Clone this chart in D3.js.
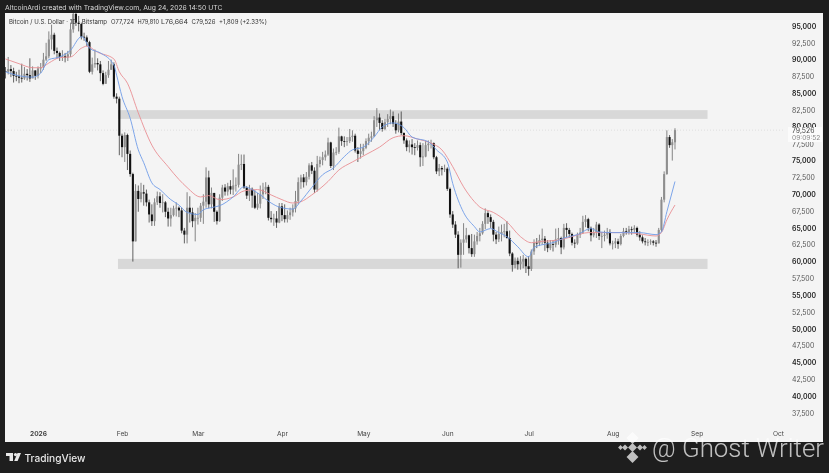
<!DOCTYPE html>
<html>
<head>
<meta charset="utf-8">
<title>BTC/USD</title>
<script src="https://cdn.jsdelivr.net/npm/d3@7"></script>
<style>
  html, body { margin: 0; padding: 0; background: #1e1e1e; overflow: hidden; }
  svg { display: block; font-family: Inter, "Liberation Sans", sans-serif; filter: blur(0.3px); }
</style>
</head>
<body>
<svg id="chart" width="829" height="473"></svg>
<script>
"use strict";

// daily closes in thousands of USD, first candle is Dec 20 2025
const closes = [
  88.2,88.6,88.3,87.6,87.5,87.3,87.2,87.9,87.7,87.2,88.4,87.6,
  88.7,88.9,90.0,90.5,93.0,93.7,91.3,91.0,90.4,90.5,90.3,90.8,94.5,96.8,95.5,95.3,93.4,93.3,92.6,88.2,89.3,89.5,89.3,88.0,86.4,87.7,88.5,89.3,84.5,84.2,78.7,
  77.0,78.8,76.0,73.0,63.0,70.5,69.3,70.3,70.1,68.8,67.0,66.0,68.8,69.7,68.7,68.8,67.4,66.4,66.9,67.9,68.0,67.6,64.6,64.0,68.0,67.3,66.0,66.5,
  66.5,68.3,68.9,72.5,68.5,70.2,67.4,66.0,69.5,71.0,70.4,71.2,70.7,71.3,71.4,74.4,74.5,71.0,69.8,70.8,69.8,68.0,68.6,70.0,70.7,71.1,66.5,66.3,66.4,65.8,68.2,
  66.9,66.3,66.9,67.3,67.9,69.0,71.8,72.5,71.8,72.6,74.3,73.5,70.7,74.5,75.1,75.5,75.9,77.7,74.2,76.2,76.3,78.6,77.9,77.8,77.9,78.5,78.7,76.5,76.0,76.4,
  76.9,77.9,78.4,78.6,81.0,81.4,80.6,79.7,80.7,81.2,81.6,80.5,79.5,80.8,79.1,78.0,77.0,77.4,77.0,76.9,77.3,75.5,75.6,77.3,77.5,77.6,75.5,73.4,73.9,73.7,73.8,
  70.8,67.0,65.5,64.0,61.0,62.8,63.3,63.9,62.0,61.1,63.0,63.8,64.2,65.6,67.2,66.6,65.9,64.0,63.3,64.1,64.4,64.5,63.5,61.2,59.5,60.1,59.6,60.0,60.4,59.3,
  58.9,61.5,62.8,62.7,63.2,63.4,62.8,62.0,62.6,62.5,63.3,63.5,62.1,65.0,64.7,64.1,62.8,62.7,64.0,64.3,65.9,66.3,65.0,63.9,64.3,65.5,63.8,63.8,64.0,64.4,62.7,
  62.7,63.0,62.6,63.8,64.5,64.4,64.8,64.7,65.0,64.0,63.6,63.0,62.9,62.9,63.0,62.8,62.7,64.7,69.2,73.0,78.5,77.3,77.72,79.526
];
const highs = [
  88.9,90.4,89.2,88.8,88.2,88.5,89.4,88.9,88.6,90.2,89.0,88.4,
  89.0,89.5,91.0,92.5,94.2,95.2,94.0,91.8,91.2,91.4,91.0,91.3,95.5,97.8,97.0,96.5,95.5,94.0,93.6,92.8,90.3,91.5,90.2,89.8,88.4,88.2,89.8,90.0,89.6,85.0,84.5,
  79.0,79.2,79.0,76.5,73.2,71.5,71.3,71.7,71.4,70.7,69.2,68.5,69.4,70.4,70.3,70.0,69.0,68.0,68.0,68.3,68.8,68.2,68.0,65.0,70.3,69.7,68.0,67.2,
  68.0,68.7,70.0,74.0,73.5,71.0,70.2,67.6,70.0,71.4,71.5,71.7,72.1,73.7,72.5,76.0,75.9,75.9,71.2,71.4,71.0,70.6,70.2,71.3,71.7,71.8,71.4,67.5,67.1,67.5,68.7,
  68.7,68.5,67.6,68.0,68.5,70.5,72.5,72.9,73.0,73.3,74.6,74.8,74.0,75.7,75.6,76.3,76.5,78.4,77.8,76.8,77.0,79.9,78.7,78.6,78.5,79.7,79.5,79.0,77.0,77.5,
  77.5,78.3,79.0,79.3,81.6,82.8,82.0,81.0,81.2,81.9,82.6,82.3,81.0,82.0,82.3,79.2,78.3,78.0,78.2,77.6,78.0,77.7,77.6,77.9,78.0,78.1,77.7,75.7,74.5,74.2,74.4,
  74.0,71.0,67.5,66.0,64.5,63.3,65.7,65.0,64.0,64.1,64.0,64.4,65.0,66.0,67.9,67.5,67.0,66.2,64.4,65.2,65.5,65.6,66.0,64.6,61.4,60.6,60.6,60.8,61.0,60.6,
  60.8,61.8,63.3,63.5,64.0,64.9,63.8,63.2,63.2,63.2,64.9,65.0,63.7,65.6,65.7,65.0,64.3,63.3,64.3,65.0,66.8,66.9,66.5,65.2,65.0,65.9,65.7,64.4,64.6,65.0,64.8,
  63.1,63.5,63.4,64.1,65.0,65.0,65.3,65.2,65.4,65.2,64.5,63.9,63.5,63.3,63.3,63.2,63.2,65.0,69.6,73.4,79.5,78.8,78.2,79.81
];
const lows = [
  87.2,87.8,87.4,86.6,86.8,86.5,86.6,87.0,86.9,86.7,87.3,87.0,
  87.2,88.0,88.5,89.8,90.2,91.5,90.8,90.2,89.8,89.8,89.6,89.8,90.4,94.0,95.0,94.2,93.0,92.8,92.0,88.0,87.8,88.8,88.4,86.8,86.2,86.5,87.3,88.5,84.2,83.5,75.8,
  75.5,74.8,73.6,72.6,60.0,63.0,67.4,68.8,68.3,68.2,65.8,65.3,65.3,68.4,68.0,67.3,66.6,65.2,65.2,66.7,66.7,66.6,64.2,62.7,62.7,65.8,65.1,63.0,
  65.5,65.9,65.6,68.0,67.9,67.9,65.9,65.5,65.9,69.0,69.8,69.8,70.0,69.9,70.4,71.0,73.6,70.8,69.3,69.0,68.0,67.8,67.7,67.9,69.3,70.0,66.1,65.8,65.3,65.0,65.7,
  66.0,65.8,65.8,66.2,66.7,67.3,68.5,70.8,71.0,71.3,72.2,73.0,70.2,70.4,74.0,74.3,75.0,75.7,73.9,73.6,75.8,76.0,77.2,77.0,77.2,77.6,77.8,76.2,74.8,75.3,
  75.8,76.7,77.3,77.8,78.5,80.0,79.5,79.3,79.5,80.0,80.4,80.0,79.0,79.2,78.8,77.5,76.4,76.2,75.9,75.8,76.5,74.1,74.2,75.5,76.4,76.8,75.2,73.0,72.7,72.8,73.3,
  70.5,66.5,65.0,63.5,59.0,59.1,61.0,62.8,61.2,60.7,60.7,62.5,63.0,64.0,64.8,65.6,65.0,63.0,62.6,62.9,63.0,63.6,63.4,60.8,58.5,59.0,58.8,58.8,59.0,58.3,
  57.9,58.6,61.0,62.0,62.3,62.5,61.6,61.4,61.7,61.5,62.1,62.5,61.1,61.8,63.6,63.5,62.4,62.0,62.5,63.5,64.1,65.1,64.5,63.0,63.6,63.5,63.2,62.0,63.0,63.4,62.4,
  61.8,62.0,61.9,62.4,63.6,64.0,64.0,64.0,64.3,63.7,63.1,62.7,62.4,62.3,62.5,62.4,62.2,62.7,64.4,68.8,72.9,76.9,75.0,76.664
];
const firstOpen = 88.3;

// moving averages: day number from Jan 1 2026, value in thousands
const blueDays = [-12,-8,-2,1,4,8,12,16,17,19,23,28,29,31,34,37,39,42,45,49,52,55,59,61,65,67,72,76,81,86,89,94,97,101,105,109,113,116,120,124,127,131,135,138,144,147,151,153,157,161,163,167,170,173,177,181,183,186,190,194,199,204,207,212,217,222,228,230,232,235];
const blueValues = [88.2,87.7,87.4,88.0,90.0,90.4,91.4,93.4,93.2,91.7,91.0,89.2,87.7,84.5,81.3,76.6,74.7,71.7,70.7,69.2,68.4,67.3,67.0,67.7,68.1,68.3,69.6,71.1,70.2,68.7,68.1,67.8,69.0,71.0,72.9,73.9,75.6,76.6,77.0,78.5,80.0,80.6,79.9,78.5,77.8,76.6,74.8,71.6,67.3,65.2,64.4,64.9,64.3,63.7,62.2,60.7,62.1,62.5,62.8,63.5,64.0,64.9,64.4,64.3,64.3,64.3,64.0,64.4,67.4,71.9];
const redDays = [-12,-7,-2,1,4,8,12,16,18,22,28,30,33,37,42,48,52,55,60,63,67,72,76,81,86,90,94,97,101,107,111,116,121,126,131,135,140,145,149,153,157,161,163,168,173,178,182,186,192,197,203,208,217,222,228,230,232,235];
const redValues = [90.1,89.4,88.8,88.8,89.5,90.3,90.4,91.7,92.0,91.1,90.1,88.2,86.5,82.1,77.3,74.1,72.2,71.0,69.6,69.8,69.2,69.6,70.5,70.7,69.9,69.2,68.7,68.9,69.9,71.9,73.6,74.8,75.9,77.0,78.4,78.7,78.2,77.6,76.6,74.1,71.1,68.9,68.1,67.3,65.9,63.7,62.8,63.0,63.2,63.7,64.3,64.3,64.3,64.1,63.8,64.3,66.2,68.4];

const priceTicks = d3.range(95000, 37499, -2500);
const monthTicks = ["2026-01-01","2026-02-01","2026-03-01","2026-04-01","2026-05-01","2026-06-01","2026-07-01","2026-08-01","2026-09-01","2026-10-01"];
const monthLabels = ["2026","Feb","Mar","Apr","May","Jun","Jul","Aug","Sep","Oct"];

// grey zones: price bounds and day bounds
const zones = [
  { top: 82.5, bottom: 81.2, from: 29.5, to: 247 },
  { top: 60.4, bottom: 58.9, from: 29.5, to: 247 }
];

const headerText = "AltcoinArdi created with TradingView.com, Aug 24, 2026 14:50 UTC";
const legendTexts = ["Bitcoin / U.S. Dollar · 1D · Bitstamp", "O77,724", "H79,810", "L76,664", "C79,526", "+1,809 (+2.33%)"];

const day0 = Date.UTC(2026, 0, 1);
const dayMs = 86400000;
const dateOf = d => new Date(day0 + d * dayMs);

const x = d3.scaleUtc()
    .domain([new Date("2026-01-01"), new Date("2026-10-01")])
    .range([38, 778]);
const y = d3.scaleLinear()
    .domain([37500, 95000])
    .range([413, 26]);
const yK = v => y(v * 1000);

const candles = closes.map((c, i) => ({
    date: dateOf(i - 12),
    open: i === 0 ? firstOpen : closes[i - 1],
    high: highs[i],
    low: lows[i],
    close: c
}));

const svg = d3.select("#chart");

// frame
svg.append("rect").attr("width", 829).attr("height", 473).attr("fill", "#1e1e1e");
svg.append("rect").attr("x", 5).attr("y", 13).attr("width", 818).attr("height", 429).attr("fill", "#f4f4f4");

const defs = svg.append("defs");
defs.append("clipPath").attr("id", "plot")
    .append("rect").attr("x", 5).attr("y", 13).attr("width", 780).attr("height", 429);

const plot = svg.append("g").attr("clip-path", "url(#plot)");

// zones
plot.selectAll("rect.zone")
    .data(zones)
    .enter()
    .append("rect")
    .attr("class", "zone")
    .attr("x", d => x(dateOf(d.from)))
    .attr("width", d => x(dateOf(d.to)) - x(dateOf(d.from)))
    .attr("y", d => yK(d.top))
    .attr("height", d => yK(d.bottom) - yK(d.top))
    .attr("fill", "#d8d8d8");

// last price dotted line
plot.append("line")
    .attr("x1", 5).attr("x2", 785)
    .attr("y1", yK(79.526)).attr("y2", yK(79.526))
    .attr("stroke", "#cfcfcf")
    .attr("stroke-width", 0.6)
    .attr("stroke-dasharray", "1 2");

// candles
const candle = plot.selectAll("g.candle")
    .data(candles)
    .enter()
    .append("g")
    .attr("class", "candle");

candle.append("line")
    .attr("x1", d => x(d.date)).attr("x2", d => x(d.date))
    .attr("y1", d => yK(d.high)).attr("y2", d => yK(d.low))
    .attr("stroke", d => d.close >= d.open ? "#555" : "#222")
    .attr("stroke-width", 0.7);

candle.append("rect")
    .attr("x", d => x(d.date) - 1.05)
    .attr("width", 2.1)
    .attr("y", d => yK(Math.max(d.open, d.close)))
    .attr("height", d => Math.max(0.8, Math.abs(yK(d.open) - yK(d.close))))
    .attr("fill", d => d.close >= d.open ? "#8e8e8e" : "#111");

// moving averages
const maLine = d3.line()
    .curve(d3.curveMonotoneX)
    .x(d => x(dateOf(d[0])))
    .y(d => yK(d[1]));

plot.append("path")
    .attr("d", maLine(redDays.map((d, i) => [d, redValues[i]])))
    .attr("fill", "none")
    .attr("stroke", "#e98f93")
    .attr("stroke-width", 0.9);
plot.append("path")
    .attr("d", maLine(blueDays.map((d, i) => [d, blueValues[i]])))
    .attr("fill", "none")
    .attr("stroke", "#6f9ce8")
    .attr("stroke-width", 0.9);

// price axis
const yAxis = d3.axisRight(y)
    .tickValues(priceTicks.filter(d => d !== 80000))
    .tickFormat(d3.format(","))
    .tickSize(0)
    .tickPadding(0);
const yAxisG = svg.append("g").attr("transform", "translate(792,0)").call(yAxis);
yAxisG.select(".domain").remove();
yAxisG.selectAll("text")
    .attr("fill", d => d % 5000 === 0 ? "#222" : "#555")
    .attr("font-weight", d => d % 5000 === 0 ? 600 : 400)
    .attr("font-size", 6.9)
    .attr("font-family", "Inter, 'Liberation Sans', sans-serif");

// time axis
const xAxis = d3.axisBottom(x)
    .tickValues(monthTicks.map(d => new Date(d)))
    .tickFormat((d, i) => monthLabels[i])
    .tickSize(0)
    .tickPadding(0);
const xAxisG = svg.append("g").attr("transform", "translate(0,431)").call(xAxis);
xAxisG.select(".domain").remove();
xAxisG.selectAll("text")
    .attr("fill", "#444")
    .attr("font-size", 6.6)
    .attr("font-weight", (d, i) => i === 0 ? 700 : 400)
    .attr("font-family", "Inter, 'Liberation Sans', sans-serif");

// last price tag, the 80,000 tick only peeks out above it
svg.append("text").attr("x", 792).attr("y", 128.5).attr("font-size", 6.9).attr("font-weight", 600).attr("fill", "#222").text("80,000");
svg.append("rect").attr("x", 788).attr("y", 127).attr("width", 34).attr("height", 15).attr("fill", "#fbfbfb");
svg.append("text").attr("x", 792).attr("y", 132.5).attr("font-size", 6.9).attr("fill", "#444").text("79,526");
svg.append("text").attr("x", 792).attr("y", 140).attr("font-size", 6.6).attr("fill", "#888").text("09:09:52");

// dark header drawn after the candles so the spike is cut there
svg.append("rect").attr("width", 829).attr("height", 13).attr("fill", "#1e1e1e");
svg.append("text").attr("x", 5).attr("y", 10).attr("font-size", 6.8).attr("fill", "#d8d8d8").text(headerText);

const legendX = [9, 111, 137.5, 161, 191.5, 219];
const legendW = [98, 23, 21.5, 27, 24, 48];
svg.selectAll("text.legend")
    .data(legendTexts)
    .enter()
    .append("text")
    .attr("class", "legend")
    .attr("x", (d, i) => legendX[i])
    .attr("y", 23.5)
    .attr("font-size", 6.5)
    .attr("textLength", (d, i) => legendW[i])
    .attr("lengthAdjust", "spacingAndGlyphs")
    .attr("fill", "#333")
    .text(d => d);

// TradingView logo
const logo = svg.append("g").attr("transform", "translate(6,453)").attr("fill", "#e8e8e8");
logo.append("path").attr("d", "M0 0H7V8H3.5V3H0Z");
logo.append("circle").attr("cx", 9.5).attr("cy", 1.6).attr("r", 1.6);
logo.append("path").attr("d", "M11.5 0H15L11.6 8H8.2Z");
svg.append("text").attr("x", 24.5).attr("y", 461.5)
    .attr("font-size", 11).attr("font-weight", 500)
    .attr("textLength", 61).attr("lengthAdjust", "spacingAndGlyphs")
    .attr("fill", "#e8e8e8").text("TradingView");

// watermark
const mark = svg.append("g").attr("fill", "#ffffff").attr("opacity", 0.72);
[[632.5, 438, 4.2], [632.5, 457, 4.2], [625, 447.5, 2.1], [640, 447.5, 2.1], [620.5, 447.5, 1.7], [644.5, 447.5, 1.7]].forEach(m => {
    mark.append("rect")
        .attr("x", -m[2]).attr("y", -m[2]).attr("width", m[2] * 2).attr("height", m[2] * 2)
        .attr("transform", `translate(${m[0]},${m[1]}) rotate(45)`);
});
mark.append("path").attr("d", "M632.5 443 L637 447.5 L632.5 452 L628 447.5 Z");
mark.append("text").attr("x", 652).attr("y", 457)
    .attr("font-family", "Roboto, Inter, sans-serif")
    .attr("font-size", 26).attr("font-weight", 300)
    .attr("textLength", 172).attr("lengthAdjust", "spacingAndGlyphs")
    .text("@ Ghost Writer");
</script>
</body>
</html>
